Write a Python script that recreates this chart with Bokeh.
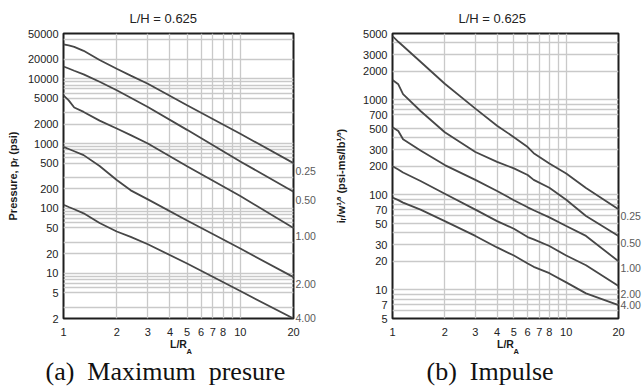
import math
from bokeh.plotting import figure
from bokeh.models import Range1d, FixedTicker, BasicTickFormatter, LogAxis, Title
from bokeh.layouts import row
from bokeh.embed import file_html
from bokeh.resources import INLINE

# ---------------- data ----------------
curve_labels = ["0.25", "0.50", "1.00", "2.00", "4.00"]

x_pressure = [1, 1.07, 1.15, 1.3, 1.6, 2, 2.4, 3, 5, 10, 20]
p_025 = [34000, 32800, 31000, 27000, 19500, 14300, 11200, 8400, 3900, 1420, 500]
p_050 = [15500, 14400, 13300, 11700, 9000, 6640, 5090, 3670, 1630, 530, 181]
p_100 = [5560, 4650, 3600, 3080, 2260, 1710, 1350, 1005, 448, 155, 50]
p_200 = [890, 826, 762, 664, 450, 275, 190, 138, 65, 24, 8.7]
p_400 = [114, 105, 97, 84, 59.5, 44, 36.4, 28, 14.1, 5.3, 2]

x_impulse = [1, 1.08, 1.15, 1.45, 2, 3, 4, 5, 6, 6.5, 8, 10, 13, 20]
i_025 = [4700, 4090, 3690, 2520, 1480, 809, 535, 405, 319, 275, 214, 168, 118, 70.6]
i_050 = [1620, 1460, 1150, 764, 457, 283, 223, 190, 162, 144, 119, 89, 60, 37]
i_100 = [516, 470, 385, 294, 206, 144, 110, 88, 74, 69, 58, 47, 37, 20]
i_200 = [200, 185, 172, 140, 103, 70, 53, 44, 36, 34, 29, 23, 18.2, 11.0]
i_400 = [94, 88, 83, 70, 53, 37, 28, 23, 19, 17.5, 15, 12, 9.2, 6.9]

x_ticks = [1, 2, 3, 4, 5, 6, 7, 8, 10, 20]
x_grid = [2, 3, 4, 5, 6, 7, 8, 9, 10]
p_ticks = [2, 5, 10, 20, 50, 100, 200, 500, 1000, 2000, 5000, 10000, 20000, 50000]
p_grid = [3, 5, 6, 7, 8, 9, 10, 20, 30, 50, 60, 70, 80, 90, 100, 200, 300, 500,
          600, 700, 800, 900, 1000, 2000, 3000, 5000, 6000, 7000, 8000, 9000,
          10000, 20000, 40000]
i_ticks = [5, 7, 10, 20, 30, 50, 70, 100, 200, 300, 500, 700, 1000, 2000, 3000, 5000]
i_grid = [6, 7, 8, 9, 10, 20, 30, 40, 50, 60, 70, 80, 90, 100, 200, 300, 400, 500,
          700, 800, 900, 1000, 2000, 3000, 4000]

FONT = "Liberation Sans"
H = 392
BT, BB = 33, 73


def make_panel(xs, series, ylo, yhi, yticks, ygrid, width, bl, br, lab_dy,
               ylabel, ylab_standoff, title_dx, caption, cap_dx):
    p = figure(width=width, height=H, x_axis_type="log", y_axis_type="log",
               x_range=Range1d(1, 20), y_range=Range1d(ylo, yhi),
               output_backend="svg", toolbar_location=None,
               min_border_left=bl, min_border_right=br,
               min_border_top=BT, min_border_bottom=BB)
    p.background_fill_color = "white"
    p.border_fill_color = "white"
    p.outline_line_color = "#1e1e1e"
    p.outline_line_width = 2

    p.xaxis.ticker = FixedTicker(ticks=x_ticks)
    p.yaxis.ticker = FixedTicker(ticks=yticks)
    for ax in (p.xaxis[0], p.yaxis[0]):
        ax.formatter = BasicTickFormatter(use_scientific=False)
        ax.major_tick_line_color = None
        ax.minor_tick_line_color = None
        ax.axis_line_color = None
        ax.major_tick_out = 0
        ax.major_tick_in = 0
        ax.major_label_text_font = FONT
        ax.major_label_text_font_size = "11px"
        ax.major_label_text_color = "#222222"
        ax.axis_label_text_font = FONT
        ax.axis_label_text_font_style = "bold"
        ax.axis_label_text_color = "#1a1a1a"
    p.yaxis.major_label_standoff = 5
    p.xaxis.major_label_standoff = 9
    p.yaxis.axis_label = ylabel
    p.yaxis.axis_label_text_font_size = "11px"
    p.yaxis.axis_label_standoff = ylab_standoff
    p.xaxis.axis_label = "L/R"
    p.xaxis.axis_label_text_font_size = "10.5px"
    p.xaxis.axis_label_standoff = -1

    p.xgrid.ticker = FixedTicker(ticks=x_grid)
    p.ygrid.ticker = FixedTicker(ticks=ygrid)
    p.grid.grid_line_color = "#c9c9c9"
    p.grid.grid_line_width = 1.3

    for ys in series:
        p.line(xs, ys, line_color="#474747", line_width=1.8)

    # curve labels on a right-hand axis, placed just below each curve's end
    fh = H - BT - BB
    fw = width - bl - br
    ppd = fh / math.log10(yhi / ylo)
    pos = [max(round(ys[-1] * 10 ** (dy / ppd), 6), ylo * 1.0005)
           for ys, dy in zip(series, lab_dy)]
    rax = LogAxis(ticker=FixedTicker(ticks=pos),
                  major_label_overrides={v: t for v, t in zip(pos, curve_labels)},
                  axis_line_color=None, major_tick_line_color=None,
                  minor_tick_line_color=None, major_tick_out=0, major_tick_in=0,
                  major_label_standoff=2, major_label_text_font=FONT,
                  major_label_text_font_size="10.5px",
                  major_label_text_color="#5a5a5a")
    p.add_layout(rax, "right")

    # title above
    p.add_layout(Title(text="L/H = 0.625", align="left", offset=title_dx,
                       text_font=FONT, text_font_size="13px",
                       text_font_style="normal", text_color="#222222",
                       standoff=16), "above")
    # subscript A of the x-axis label
    p.add_layout(Title(text="A", align="left", offset=fw / 2 + 8, text_font=FONT,
                       text_font_size="7.5px", text_font_style="bold",
                       text_color="#1a1a1a", standoff=-11, vertical_align="top"),
                 "below")
    # caption below
    p.add_layout(Title(text=caption, align="left", offset=cap_dx,
                       text_font="Liberation Serif", text_font_size="26px",
                       text_font_style="normal", text_color="#111111",
                       standoff=9, vertical_align="top"), "below")
    return p


p1 = make_panel(x_pressure, [p_025, p_050, p_100, p_200, p_400], 2, 50000,
                p_ticks, p_grid, 321, 63, 28, [-8, -8, -8, -7, -4],
                "Pressure, p\u1d63 (psi)", 6, 66,
                "(a)\u00a0 Maximum\u00a0 presure", -18)

p2 = make_panel(x_impulse, [i_025, i_050, i_100, i_200, i_400], 5, 5000,
                i_ticks, i_grid, 322, 71, 25, [-7, -7, -7, -8, 0],
                "i\u1d63/w\u00b9\u2044\u00b3 (psi-ms/lb\u00b9\u2044\u00b3)", 13, 66,
                "(b)\u00a0 Impulse", 34)

layout = row(p1, p2)
open("out.html", "w").write(file_html(layout, INLINE))
